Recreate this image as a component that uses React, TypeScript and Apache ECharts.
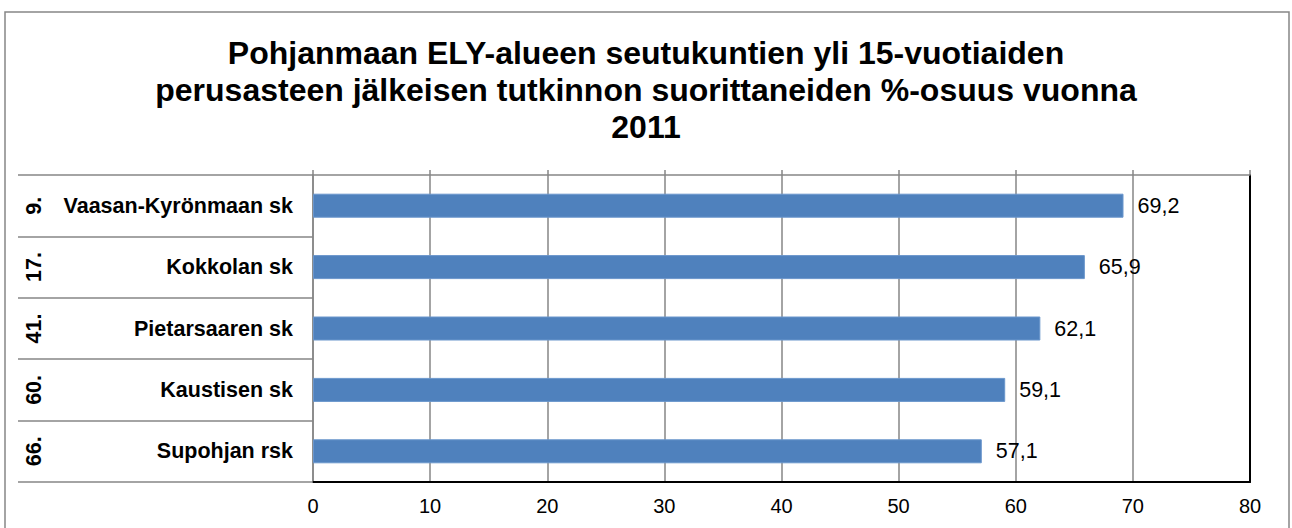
import React, { useEffect, useRef } from "react";
import * as echarts from "echarts";

const titleText =
  "Pohjanmaan ELY-alueen seutukuntien yli 15-vuotiaiden\nperusasteen jälkeisen tutkinnon suorittaneiden %-osuus vuonna\n2011";
const categories = [
  "Vaasan-Kyrönmaan sk",
  "Kokkolan sk",
  "Pietarsaaren sk",
  "Kaustisen sk",
  "Supohjan rsk",
];
const ranks = ["9.", "17.", "41.", "60.", "66."];
const values = [69.2, 65.9, 62.1, 59.1, 57.1];
const xTicks = { min: 0, max: 80, interval: 10 };

export default function App() {
  const ref = useRef<HTMLDivElement>(null);
  useEffect(() => {
    if (!ref.current) return;
    const chart = echarts.init(ref.current, null, { renderer: "svg" });
    const font = "Liberation Sans, Arial, sans-serif";
    chart.setOption({
      animation: false,
      backgroundColor: "#ffffff",
      title: {
        text: titleText,
        left: "center",
        top: 29,
        textStyle: {
          fontFamily: font,
          fontSize: 32,
          fontWeight: "bold",
          color: "#000",
          lineHeight: 37,
          align: "center",
        },
      },
      graphic: [
        {
          type: "rect",
          shape: { x: 5, y: 12, width: 1284, height: 530 },
          style: { fill: "none", stroke: "#868686", lineWidth: 1.5 },
          silent: true,
        },
      ],
      grid: { left: 313, right: 42, top: 175, bottom: 46, containLabel: false },
      xAxis: [
        {
          type: "value",
          position: "bottom",
          min: xTicks.min,
          max: xTicks.max,
          interval: xTicks.interval,
          axisLine: { show: true, lineStyle: { color: "#000", width: 2 } },
          axisTick: { show: false },
          axisLabel: {
            color: "#000",
            fontFamily: font,
            fontSize: 20,
            margin: 14,
            formatter: (v: number) => String(v),
          },
          splitLine: { show: true, lineStyle: { color: "#868686", width: 1.5 } },
        },
        {
          type: "value",
          position: "top",
          min: xTicks.min,
          max: xTicks.max,
          interval: xTicks.interval,
          axisLine: { show: true, lineStyle: { color: "#868686", width: 1.5 } },
          axisTick: { show: true, inside: false, length: 5, lineStyle: { color: "#868686", width: 1.5 } },
          axisLabel: { show: false },
          splitLine: { show: false },
        },
      ],
      yAxis: [
        {
          type: "category",
          inverse: true,
          data: categories,
          position: "left",
          axisLine: { show: true, lineStyle: { color: "#868686", width: 1.5 } },
          axisTick: {
            show: true,
            inside: false,
            length: 295,
            lineStyle: { color: "#868686", width: 1.5 },
          },
          axisLabel: {
            color: "#000",
            fontFamily: font,
            fontSize: 21.5,
            fontWeight: "bold",
            margin: 20,
          },
          splitLine: { show: false },
        },
        {
          type: "category",
          inverse: true,
          data: ranks,
          position: "left",
          offset: 262,
          axisLine: { show: false },
          axisTick: { show: false },
          axisLabel: {
            color: "#000",
            fontFamily: font,
            fontSize: 21.5,
            fontWeight: "bold",
            rotate: 90,
            margin: 6,
          },
        },
        {
          type: "category",
          inverse: true,
          data: categories,
          position: "right",
          axisLine: { show: true, lineStyle: { color: "#000", width: 2 } },
          axisTick: { show: false },
          axisLabel: { show: false },
        },
      ],
      series: [
        {
          type: "bar",
          xAxisIndex: 0,
          yAxisIndex: 0,
          data: values,
          barWidth: 24,
          itemStyle: { color: "#4F81BD", borderColor: "#6A96CC", borderWidth: 1 },
          label: {
            show: true,
            position: "right",
            distance: 14,
            color: "#000",
            fontFamily: font,
            fontSize: 21.5,
            formatter: (p: any) => String(p.value).replace(".", ","),
          },
        },
      ],
    });
    return () => chart.dispose();
  }, []);
  return (
    <div
      ref={ref}
      style={{ position: "fixed", left: 0, top: 0, width: 1292, height: 528 }}
    />
  );
}
